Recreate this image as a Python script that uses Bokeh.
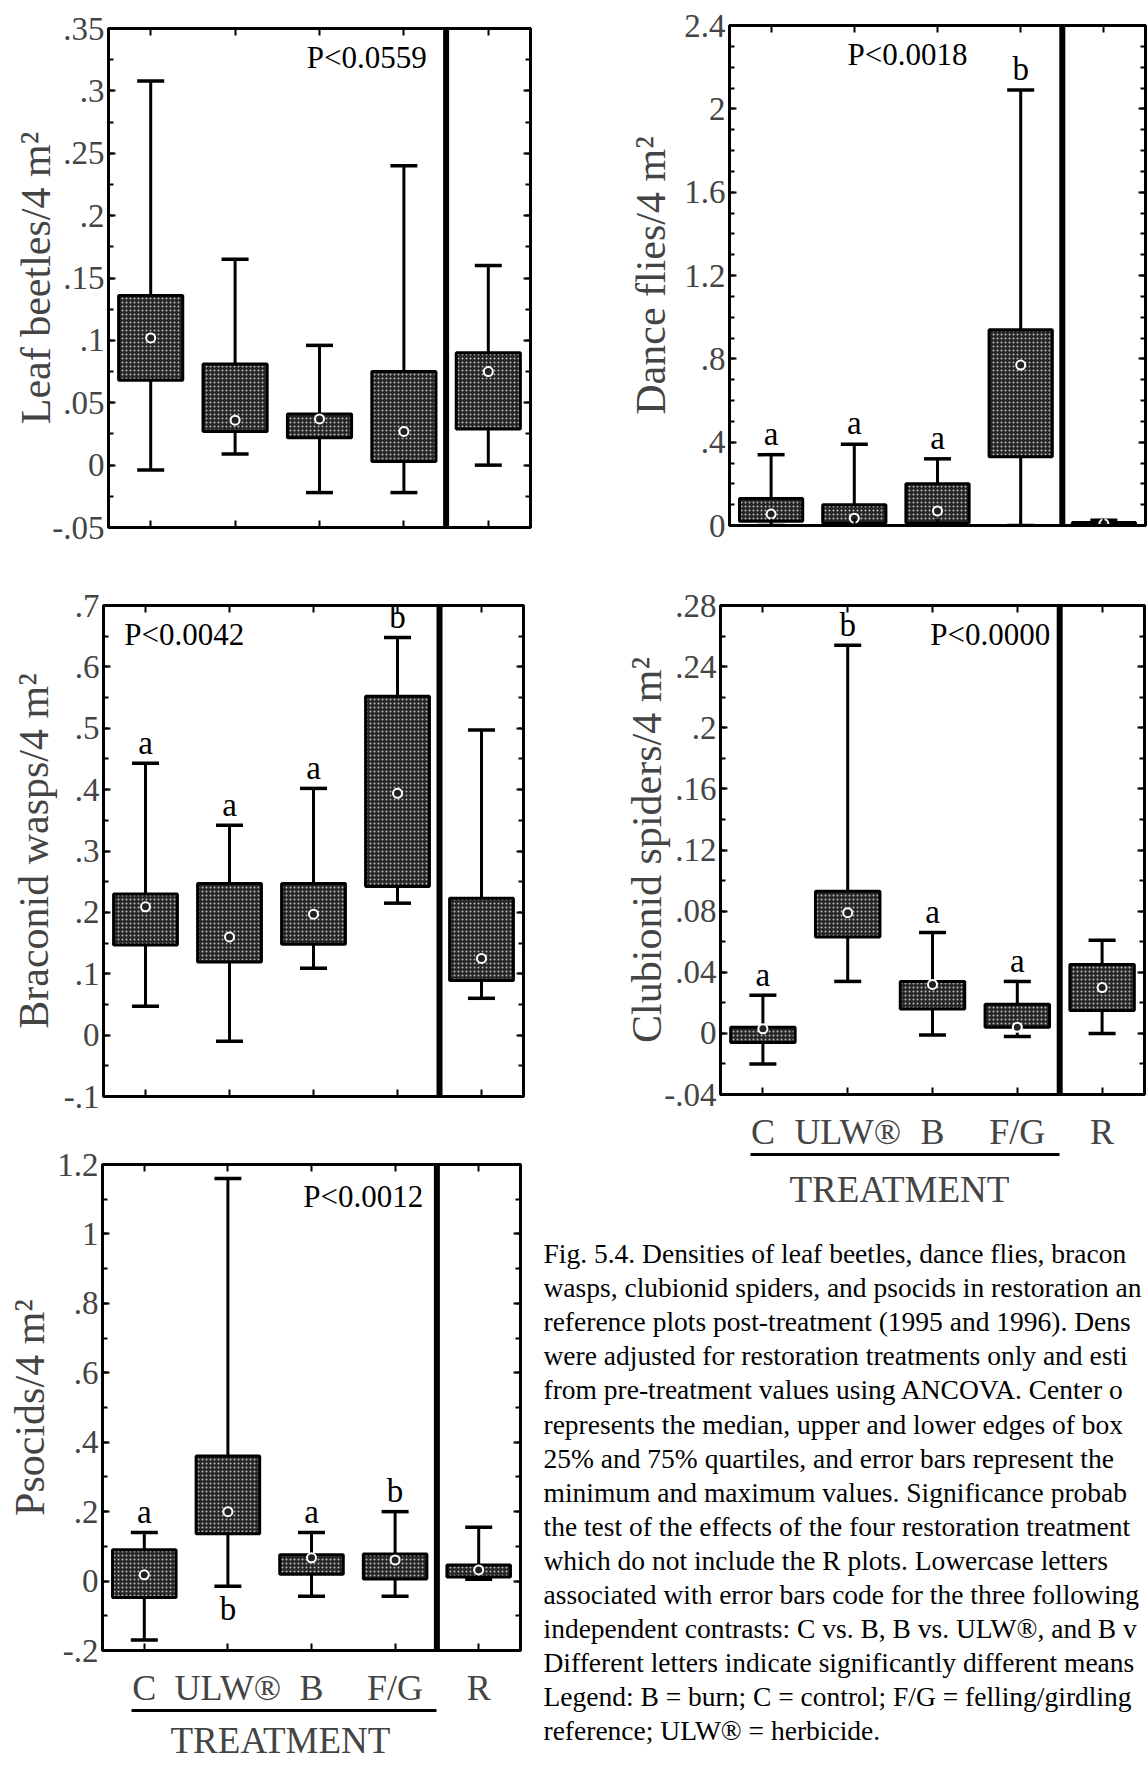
from bokeh.plotting import figure
from bokeh.models import Range1d, FixedTicker, LinearAxis, Span, CustomJSTickFormatter, ColumnDataSource, Title
from bokeh.layouts import column, row
from bokeh.embed import file_html
from bokeh.resources import INLINE
from bokeh.core.properties import value

# ---------------- data ----------------
categories = ["C", "ULW®", "B", "F/G", "R"]
positions = [1, 2, 3, 4, 5]

leaf_max = [0.308, 0.165, 0.096, 0.240, 0.160]
leaf_q3 = [0.136, 0.081, 0.041, 0.075, 0.090]
leaf_med = [0.102, 0.036, 0.037, 0.027, 0.075]
leaf_q1 = [0.068, 0.027, 0.022, 0.003, 0.029]
leaf_min = [-0.004, 0.009, -0.022, -0.022, 0.000]
leaf_letters = ["", "", "", "", ""]

dance_max = [0.34, 0.39, 0.32, 2.09, 0.025]
dance_q3 = [0.13, 0.10, 0.20, 0.94, 0.015]
dance_med = [0.055, 0.035, 0.07, 0.77, 0.008]
dance_q1 = [0.02, 0.012, 0.012, 0.33, 0.0]
dance_min = [0.0, 0.0, 0.0, 0.0, 0.0]
dance_letters = ["a", "a", "a", "b", ""]

bracon_max = [0.443, 0.342, 0.402, 0.648, 0.497]
bracon_q3 = [0.230, 0.247, 0.247, 0.552, 0.223]
bracon_med = [0.209, 0.160, 0.197, 0.394, 0.125]
bracon_q1 = [0.147, 0.119, 0.148, 0.242, 0.089]
bracon_min = [0.047, -0.010, 0.109, 0.215, 0.060]
bracon_letters = ["a", "a", "a", "b", ""]

club_max = [0.025, 0.254, 0.066, 0.034, 0.061]
club_q3 = [0.004, 0.093, 0.034, 0.019, 0.045]
club_med = [0.003, 0.079, 0.032, 0.004, 0.030]
club_q1 = [-0.006, 0.063, 0.016, 0.004, 0.015]
club_min = [-0.020, 0.034, -0.001, -0.002, 0.000]
club_letters = ["a", "b", "a", "a", ""]

psoc_max = [0.14, 1.16, 0.14, 0.20, 0.155]
psoc_q3 = [0.09, 0.36, 0.076, 0.078, 0.046]
psoc_med = [0.018, 0.20, 0.067, 0.061, 0.032]
psoc_q1 = [-0.047, 0.136, 0.020, 0.006, 0.012]
psoc_min = [-0.17, -0.015, -0.044, -0.044, 0.005]
psoc_letters_top = ["a", "", "a", "b", ""]
psoc_letters_bottom = ["", "b", "", "", ""]

p_values = ["P<0.0559", "P<0.0018", "P<0.0042", "P<0.0000", "P<0.0012"]

caption_lines = [
    "Fig. 5.4.  Densities of leaf beetles, dance flies, bracon",
    "wasps, clubionid spiders, and psocids in restoration an",
    "reference plots post-treatment (1995 and 1996).  Dens",
    "were adjusted for restoration treatments only and esti",
    "from pre-treatment values using ANCOVA.  Center o",
    "represents the median, upper and lower edges of box",
    "25% and 75% quartiles, and error bars represent the",
    "minimum and maximum values.  Significance probab",
    "the test of the effects of the four restoration treatment",
    "which do not include the R plots.  Lowercase letters",
    "associated with error bars code for the three following",
    "independent contrasts:  C vs. B, B vs. ULW®, and B v",
    "Different letters indicate significantly different means",
    "Legend:  B = burn; C = control; F/G = felling/girdling",
    "reference; ULW® = herbicide.",
]

# ---------------- style ----------------
SERIF = "Liberation Serif"
FILL = "#262626"
DOTS = "#bdbdbd"

TICK_CODE = """
const v = Math.round(tick * 10000) / 10000;
let s = String(v);
if (s.startsWith("0.")) { s = s.slice(1); }
else if (s.startsWith("-0.")) { s = "-" + s.slice(2); }
return s;
"""


def steps(a, b, step):
    n = int(round((b - a) / step))
    return [round(a + i * step, 6) for i in range(n + 1)]


def style_axis(ax, ticker, labels=False):
    ax.ticker = ticker
    ax.axis_line_width = 3
    ax.axis_line_color = "black"
    ax.major_tick_in = 7
    ax.major_tick_out = 0
    ax.minor_tick_in = 5
    ax.minor_tick_out = 0
    ax.major_tick_line_width = 2
    ax.minor_tick_line_width = 2
    if not labels:
        ax.major_label_text_font_size = "0px"
        ax.major_label_text_color = None
        ax.major_label_standoff = 0


def make_panel(ylabel, ymin, ymax, major, minor, vmax, vq3, vmed, vq1, vmin,
               letters, pval, pval_xy, fig_w, fig_h, page_x, page_y, frame,
               label_standoff, show_cats=False, cat_standoff=17, title_offset=0,
               title_standoff=10, letters_below=None):
    fl, ft, fr, fb = frame
    span = ymax - ymin
    p = figure(width=fig_w, height=fig_h,
               x_range=Range1d(0.5, 5.5), y_range=Range1d(ymin, ymax),
               output_backend="svg", toolbar_location=None, tools="",
               min_border_left=fl - page_x, min_border_top=ft - page_y,
               min_border_right=page_x + fig_w - fr,
               min_border_bottom=page_y + fig_h - fb)
    p.frame_align = False
    p.outline_line_color = "black"
    p.outline_line_width = 3
    p.xgrid.visible = False
    p.ygrid.visible = False
    p.background_fill_color = "white"
    p.border_fill_color = "white"

    yt = FixedTicker(ticks=steps(ymin, ymax, major), minor_ticks=steps(ymin, ymax, minor))
    xt = FixedTicker(ticks=positions, minor_ticks=[])

    ya = p.yaxis[0]
    style_axis(ya, yt, labels=True)
    ya.formatter = CustomJSTickFormatter(code=TICK_CODE)
    ya.major_label_text_font = SERIF
    ya.major_label_text_font_size = "33px"
    ya.major_label_standoff = 4
    ya.axis_label = ylabel
    ya.axis_label_text_font = SERIF
    ya.axis_label_text_font_size = "42px"
    ya.axis_label_text_font_style = "normal"
    ya.axis_label_standoff = label_standoff

    xa = p.xaxis[0]
    style_axis(xa, xt, labels=show_cats)
    if show_cats:
        xa.formatter = CustomJSTickFormatter(args=dict(labels=categories),
                                             code="return labels[Math.round(tick) - 1];")
        xa.major_label_text_font = SERIF
        xa.major_label_text_font_size = "36px"
        xa.major_label_standoff = cat_standoff
        uax = LinearAxis(bounds=(0.85, 4.5))
        style_axis(uax, FixedTicker(ticks=[]))
        uax.major_tick_in = 0
        p.add_layout(uax, "below")
        p.add_layout(Title(text="TREATMENT", align="left", offset=title_offset,
                           text_font=SERIF, text_font_size="37px", text_font_style="normal",
                           standoff=title_standoff), "below")

    ra = LinearAxis()
    style_axis(ra, yt)
    p.add_layout(ra, "right")
    ta = LinearAxis()
    style_axis(ta, xt)
    p.add_layout(ta, "above")

    p.add_layout(Span(location=4.5, dimension="height", line_color="black", line_width=6))

    src = ColumnDataSource(dict(x=positions, vmax=vmax, q3=vq3, med=vmed, q1=vq1, vmin=vmin))
    p.segment(x0="x", y0="q3", x1="x", y1="vmax", source=src, line_color="black", line_width=3)
    p.segment(x0="x", y0="q1", x1="x", y1="vmin", source=src, line_color="black", line_width=3)
    p.vbar(x="x", width=0.76, top="q3", bottom="q1", source=src,
           fill_color=FILL, hatch_pattern="dot", hatch_color=DOTS, hatch_scale=4, hatch_weight=1,
           line_color="black", line_width=3)
    p.scatter(x="x", y="vmax", source=src, marker="dash", size=27, line_color="black", line_width=3.5)
    p.scatter(x="x", y="vmin", source=src, marker="dash", size=27, line_color="black", line_width=3.5)
    p.scatter(x="x", y="med", source=src, marker="circle", size=9,
              fill_color="#222222", line_color="white", line_width=2)

    idx = [i for i, t in enumerate(letters) if t]
    if idx:
        lsrc = ColumnDataSource(dict(x=[positions[i] for i in idx],
                                     y=[vmax[i] + 0.042 * span for i in idx],
                                     t=[letters[i] for i in idx]))
        p.text(x="x", y="y", text="t", source=lsrc, text_font=value(SERIF),
               text_font_size="33px", text_align="center", text_baseline="alphabetic",
               text_color="black")
    if letters_below is not None:
        idx = [i for i, t in enumerate(letters_below) if t]
        bsrc = ColumnDataSource(dict(x=[positions[i] for i in idx],
                                     y=[vmin[i] - 0.010 * span for i in idx],
                                     t=[letters_below[i] for i in idx]))
        p.text(x="x", y="y", text="t", source=bsrc, text_font=value(SERIF),
               text_font_size="33px", text_align="center", text_baseline="top",
               text_color="black")
    p.text(x=[pval_xy[0]], y=[pval_xy[1]], text=[pval], text_font=value(SERIF),
           text_font_size="31px", text_align="center", text_baseline="middle", text_color="black")
    return p


LW, RW = 543, 604          # column widths
LX, RX = 0, LW              # page x of columns

f1 = make_panel("Leaf beetles/4 m²", -0.05, 0.35, 0.05, 0.025,
                leaf_max, leaf_q3, leaf_med, leaf_q1, leaf_min, leaf_letters,
                p_values[0], (3.56, 0.327), LW, 565, LX, 0, (108, 28, 530, 527), -10)
f3 = make_panel("Braconid wasps/4 m²", -0.1, 0.7, 0.1, 0.05,
                bracon_max, bracon_q3, bracon_med, bracon_q1, bracon_min, bracon_letters,
                p_values[2], (1.46, 0.653), LW, 560, LX, 565, (103, 605, 523, 1096), 4)
f5 = make_panel("Psocids/4 m²", -0.2, 1.2, 0.2, 0.1,
                psoc_max, psoc_q3, psoc_med, psoc_q1, psoc_min, psoc_letters_top,
                p_values[4], (3.62, 1.108), LW, 642, LX, 1125, (102, 1164, 520, 1653), 1,
                show_cats=True, cat_standoff=17, title_offset=68, title_standoff=14,
                letters_below=psoc_letters_bottom)

f2 = make_panel("Dance flies/4 m²", 0.0, 2.4, 0.4, 0.1,
                dance_max, dance_q3, dance_med, dance_q1, dance_min, dance_letters,
                p_values[1], (2.64, 2.26), RW, 565, RX, 0, (729, 25, 1145, 525), 7)
f4 = make_panel("Clubionid spiders/4 m²", -0.04, 0.28, 0.04, 0.02,
                club_max, club_q3, club_med, club_q1, club_min, club_letters,
                p_values[3], (3.68, 0.261), RW, 660, RX, 565, (720, 605, 1144, 1094), -9,
                show_cats=True, title_offset=69, title_standoff=24)

# caption
cap_h = 542
first_line = 28.0
line_gap = 34.1
cap = figure(width=RW, height=cap_h, x_range=Range1d(0, RW),
             y_range=Range1d((cap_h - first_line) / line_gap, -first_line / line_gap),
             output_backend="svg", toolbar_location=None, tools="",
             x_axis_location=None, y_axis_location=None,
             min_border=0, min_border_left=0, min_border_right=0, min_border_top=0, min_border_bottom=0)
cap.frame_align = False
cap.outline_line_color = None
cap.xgrid.visible = False
cap.ygrid.visible = False
cap.background_fill_color = "white"
cap.border_fill_color = "white"
cap_src = ColumnDataSource(dict(x=[0] * len(caption_lines), y=list(range(len(caption_lines))),
                                text=caption_lines))
cap.text(x="x", y="y", text="text", source=cap_src, text_font=value(SERIF),
         text_font_size="27.5px", text_align="left", text_baseline="middle", text_color="black")

layout = row(column(f1, f3, f5), column(f2, f4, cap))
open("out.html", "w").write(file_html(layout, INLINE))
